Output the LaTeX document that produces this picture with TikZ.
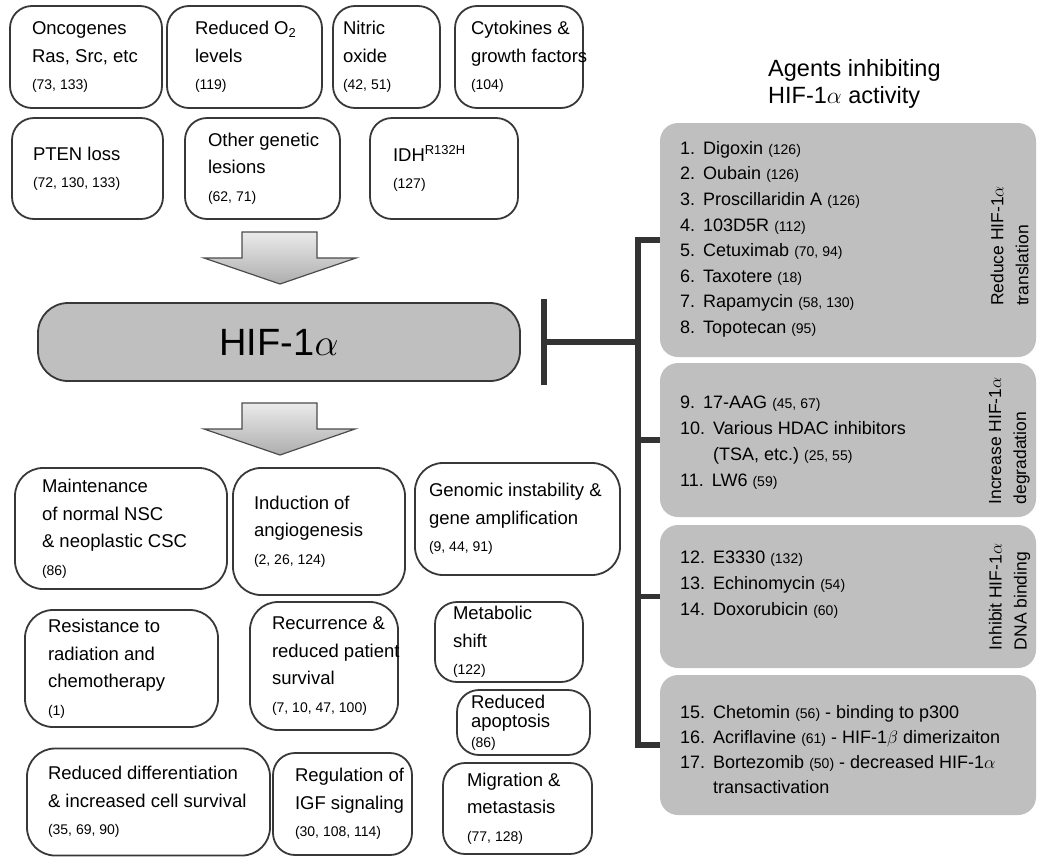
\RequirePackage{fix-cm}
\documentclass[tikz,border=0pt]{standalone}
\usepackage{fontspec}
\setmainfont{Liberation Sans}
\usetikzlibrary{arrows.meta,positioning}
\hyphenpenalty=10000
\exhyphenpenalty=10000
\frenchspacing

\newcommand{\refs}[1]{{\fontsize{14}{20}\selectfont\spaceskip=.278em\relax #1}}
\newcommand{\drug}[2]{#1\hspace{8pt}#2}
\newcommand{\hang}[1]{\phantom{#1}\hspace{8pt}}

\begin{document}
\begin{tikzpicture}[x=1pt,y=-1pt,
    font=\fontsize{18.5}{27.5}\selectfont,
    cause/.style={draw=black!78,line width=1.8pt,rounded corners=22pt,inner sep=0pt,align=flush left,
      execute at begin node={\spaceskip=.278em\relax}},
    agents/.style={fill=black!25,rounded corners=18pt,inner sep=0pt},
    drugs/.style={anchor=north west,inner sep=0pt,align=flush left,text width=350pt},
    side/.style={rotate=90,align=left,inner sep=0pt,font=\fontsize{17.5}{25}\selectfont},
    blockarrow/.style={draw=black!70,line width=1.2pt,top color=black!8,bottom color=black!32},
    inhib/.style={draw=black!80,line width=5.5pt}]
   \useasboundingbox (0,0) rectangle (1040,857);

   % what turns HIF-1a on
   \node[cause,minimum width=152pt,minimum height=102pt,text width=108pt] (onco) at (86,57)
      {Oncogenes\\Ras,~Src,~etc\\\refs{(73, 133)}};
   \node[cause,minimum width=155pt,minimum height=102pt,text width=99pt] (oxy) at (244.5,57)
      {Reduced~O\textsubscript{2}\\levels\\\refs{(119)}};
   \node[cause,minimum width=107pt,minimum height=102pt,text width=87pt] (nitric) at (386.5,57)
      {Nitric\\oxide\\\refs{(42, 51)}};
   \node[cause,minimum width=128pt,minimum height=102pt,text width=96pt] (cyto) at (519,57)
      {Cytokines~\&\\growth~factors\\\refs{(104)}};
   \node[cause,minimum width=151pt,minimum height=101pt,text width=109pt] (pten) at (87.5,168.5)
      {PTEN~loss\\\refs{(72, 130, 133)}};
   \node[cause,minimum width=155pt,minimum height=101pt,text width=109pt] (lesion) at (262.5,168.5)
      {Other~genetic\\lesions\\\refs{(62, 71)}};
   \node[cause,minimum width=148pt,minimum height=101pt,text width=102pt] (idh) at (444,168.5)
      {IDH\textsuperscript{R132H}\\\refs{(127)}};

   \path[blockarrow] (242,232) -- (317,232) -- (317,258) -- (356,258) -- (280,284)
      -- (204,258) -- (242,258) -- cycle;

   \node[cause,fill=black!25,rounded corners=30pt,minimum width=482pt,minimum height=78pt,
      font=\fontsize{38}{40}\selectfont] (hif) at (279,342) {HIF-1$\alpha$};

   \path[blockarrow] (242,403) -- (317,403) -- (317,429) -- (355,429) -- (280,455)
      -- (204,429) -- (242,429) -- cycle;

   % what HIF-1a does
   \node[cause,rounded corners=28pt,minimum width=212pt,minimum height=121pt,text width=158pt] (nsc) at (121,528.5)
      {Maintenance\\of~normal~NSC\\\&~neoplastic~CSC\\\refs{(86)}};
   \node[cause,rounded corners=28pt,minimum width=172pt,minimum height=127pt,text width=130pt] (angio) at (319,531.5)
      {Induction~of\\angiogenesis\\\refs{(2, 26, 124)}};
   \node[cause,rounded corners=28pt,minimum width=205pt,minimum height=112pt,text width=177pt] (genome) at (517.5,519)
      {Genomic~instability~\&\\gene~amplification\\\refs{(9, 44, 91)}};
   \node[cause,rounded corners=28pt,minimum width=193pt,minimum height=117pt,text width=147pt] (resist) at (121.5,668.5)
      {Resistance~to\\radiation~and\\chemotherapy\\\refs{(1)}};
   \node[cause,rounded corners=28pt,minimum width=148pt,minimum height=128pt,text width=104pt] (recur) at (324,666)
      {Recurrence~\&\\reduced~patient\\survival\\\refs{(7, 10, 47, 100)}};
   \node[cause,minimum width=148pt,minimum height=80pt,text width=112pt] (metab) at (509,642)
      {Metabolic\\shift\\\refs{(122)}};
   \node[cause,minimum width=133pt,minimum height=65pt,text width=105pt,
      font=\fontsize{18.5}{19.5}\selectfont] (apopt) at (523.5,722.5)
      {Reduced\\apoptosis\\\refs{(86)}};
   \node[cause,minimum width=149pt,minimum height=91pt,text width=101pt] (migr) at (517.5,808.5)
      {Migration~\&\\metastasis\\\refs{(77, 128)}};
   \node[cause,rounded corners=28pt,minimum width=243pt,minimum height=107pt,text width=201pt] (differ) at (148.5,802)
      {Reduced~differentiation\\\&~increased~cell~survival\\\refs{(35, 69, 90)}};
   \node[cause,minimum width=139pt,minimum height=102pt,text width=95pt] (igf) at (342.5,804)
      {Regulation~of\\IGF~signaling\\\refs{(30, 108, 114)}};

   % inhibitors
   \node[anchor=north west,inner sep=0pt,align=left,font=\fontsize{23.5}{27}\selectfont] (title) at (768,59)
      {Agents inhibiting\\HIF-1$\alpha$ activity};

   \node[agents,minimum width=376pt,minimum height=234pt] (transl) at (848,240) {};
   \node[agents,minimum width=376pt,minimum height=154pt] (degrad) at (848,440) {};
   \node[agents,minimum width=376pt,minimum height=143pt] (dnabind) at (848,596.5) {};
   \node[agents,minimum width=376pt,minimum height=140pt] (cofact) at (848,745) {};

   \node[drugs,font=\fontsize{18}{25.6}\selectfont] (list_1) at (680,141)
      {\drug{1.}{Digoxin \refs{(126)}}\\
       \drug{2.}{Oubain \refs{(126)}}\\
       \drug{3.}{Proscillaridin A \refs{(126)}}\\
       \drug{4.}{103D5R \refs{(112)}}\\
       \drug{5.}{Cetuximab \refs{(70, 94)}}\\
       \drug{6.}{Taxotere \refs{(18)}}\\
       \drug{7.}{Rapamycin \refs{(58, 130)}}\\
       \drug{8.}{Topotecan \refs{(95)}}};
   \node[drugs,font=\fontsize{18}{26}\selectfont] (list_2) at (680,396)
      {\drug{9.}{17-AAG \refs{(45, 67)}}\\
       \drug{10.}{Various HDAC inhibitors}\\
       \hang{10.}(TSA, etc.) \refs{(25, 55)}\\
       \drug{11.}{LW6 \refs{(59)}}};
   \node[drugs,font=\fontsize{18}{26}\selectfont] (list_3) at (680,551)
      {\drug{12.}{E3330 \refs{(132)}}\\
       \drug{13.}{Echinomycin \refs{(54)}}\\
       \drug{14.}{Doxorubicin \refs{(60)}}};
   \node[drugs,font=\fontsize{18}{25}\selectfont] (list_4) at (680,705)
      {\drug{15.}{Chetomin \refs{(56)} - binding to p300}\\
       \drug{16.}{Acriflavine \refs{(61)} - HIF-1$\beta$ dimerizaiton}\\
       \drug{17.}{Bortezomib \refs{(50)} - decreased HIF-1$\alpha$}\\
       \hang{17.}transactivation};

   \node[side] (side_1) at (1009.5,246) {Reduce HIF-1$\alpha$\\translation};
   \node[side] (side_2) at (1009.5,441) {Increase HIF-1$\alpha$\\degradation};
   \node[side] (side_3) at (1009.5,597) {Inhibit HIF-1$\alpha$\\DNA binding};

   \coordinate (trunk) at ([xshift=-22pt]transl.west);
   \draw[inhib] (transl.west) -- (trunk) |- (cofact.west);
   \draw[inhib] (degrad.west) -- (degrad.west -| trunk);
   \draw[inhib] (dnabind.west) -- (dnabind.west -| trunk);
   \draw[inhib,{Bar[width=86pt,line width=6pt]}-] ([xshift=20pt]hif.east) -- (hif.east -| trunk);
\end{tikzpicture}
\end{document}
